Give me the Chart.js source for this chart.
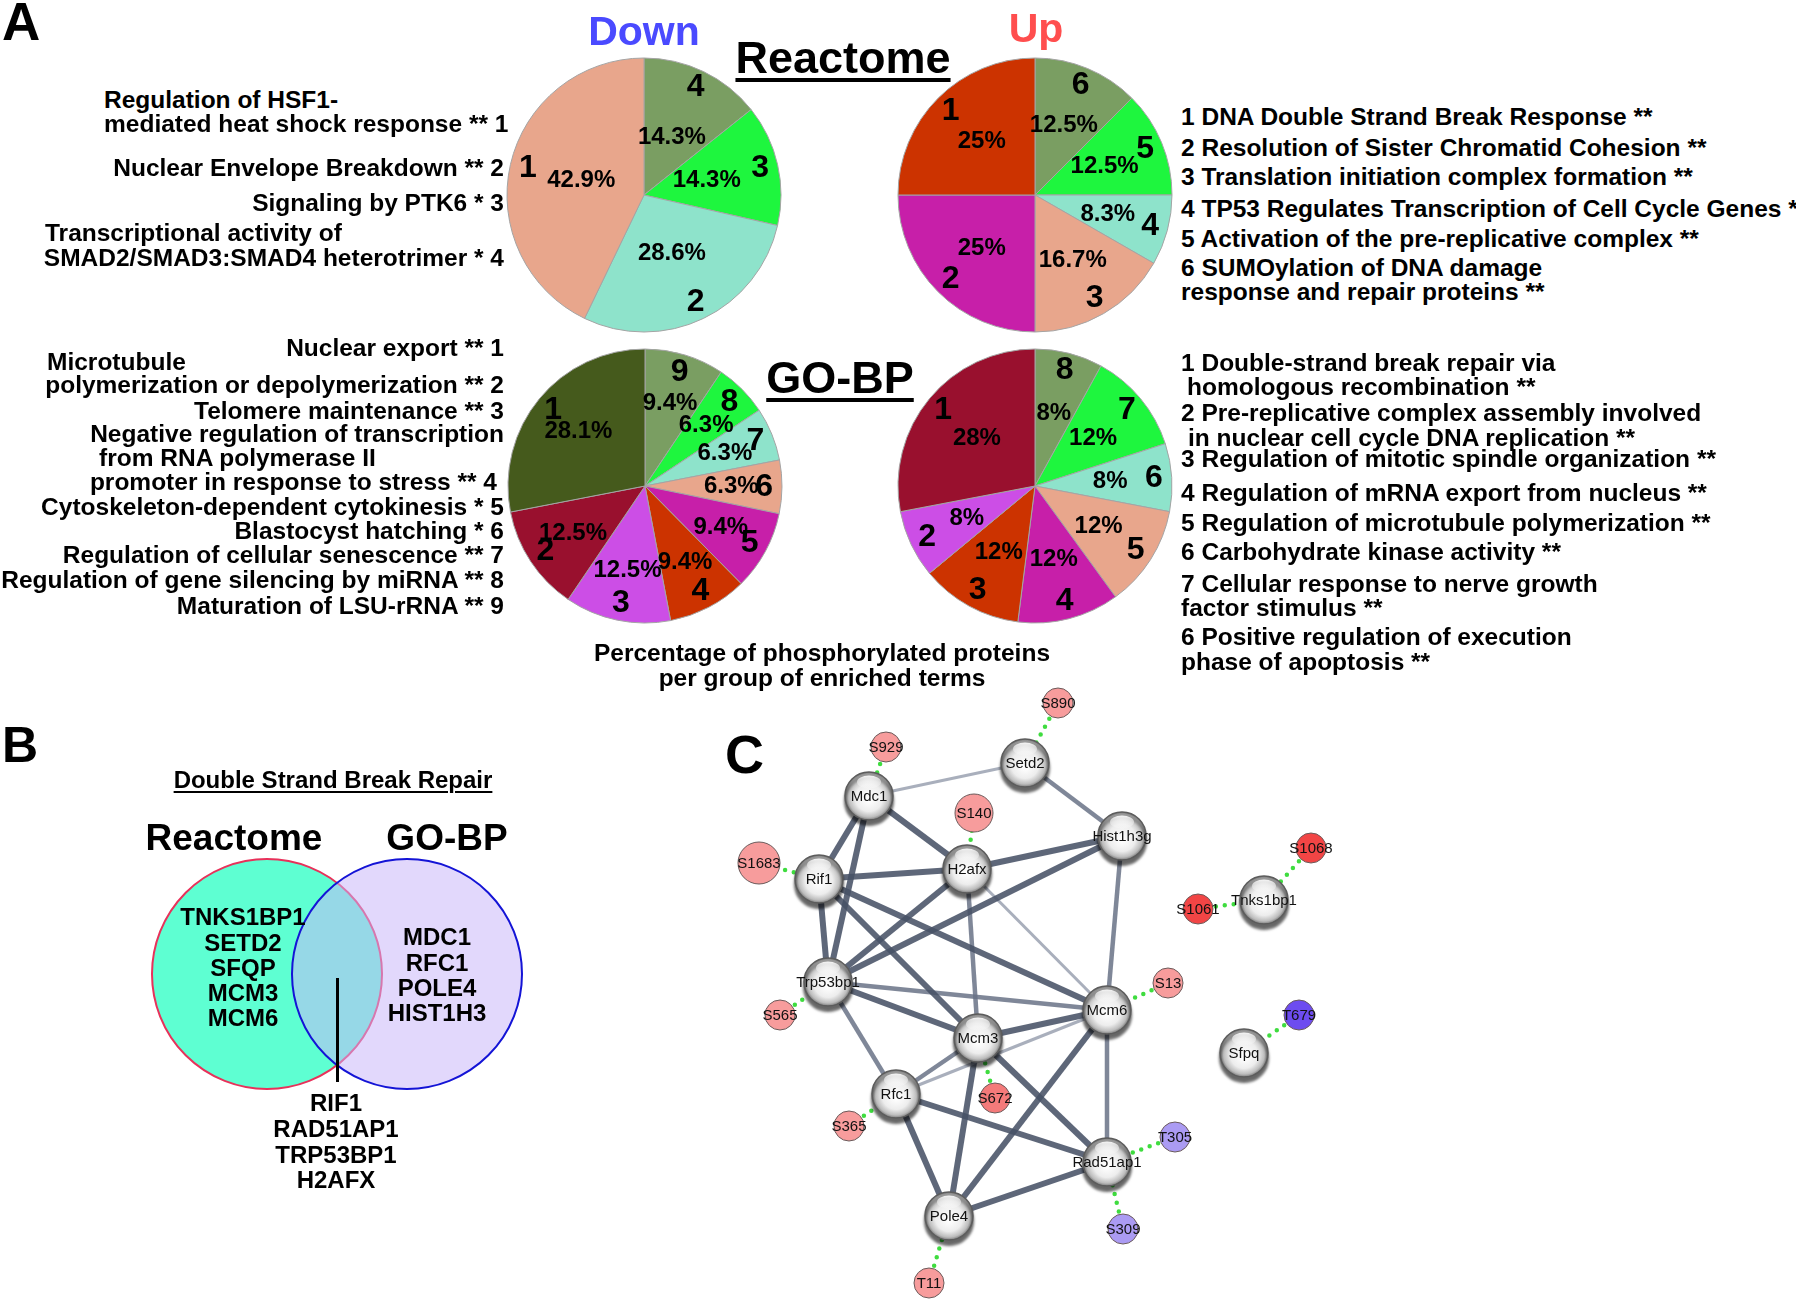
<!DOCTYPE html>
<html>
<head>
<meta charset="utf-8">
<script src="https://cdn.jsdelivr.net/npm/chart.js@4.4.1/dist/chart.umd.min.js"></script>
<style>
body { margin: 0; background: #fff; }
#page { position: relative; width: 1796px; height: 1299px; overflow: hidden;
        font-family: "Liberation Sans", Arial, Helvetica, sans-serif; font-weight: bold; color: #000; }
.t { position: absolute; white-space: pre; line-height: 1; }
canvas { position: absolute; }
</style>
</head>
<body>
<div id="page"></div>
<script>
// ---- panel A: pie data (clockwise from 12 o'clock) ----
var downReactomeIds = ['4', '3', '2', '1'];
var downReactomeVals = [14.3, 14.3, 28.6, 42.9];
var upReactomeIds = ['6', '5', '4', '3', '2', '1'];
var upReactomeVals = [12.5, 12.5, 8.3, 16.7, 25, 25];
var downGoIds = ['9', '8', '7', '6', '5', '4', '3', '2', '1'];
var downGoVals = [9.4, 6.3, 6.3, 6.3, 9.4, 9.4, 12.5, 12.5, 28.1];
var upGoIds = ['8', '7', '6', '5', '4', '3', '2', '1'];
var upGoVals = [8, 12, 8, 12, 12, 12, 8, 28];

// ---- panel B: venn sets ----
var vennSets = ['Reactome', 'GO-BP'];
var vennCenters = [{x: 267, y: 974}, {x: 407, y: 974}];
var reactomeOnly = ['TNKS1BP1', 'SETD2', 'SFQP', 'MCM3', 'MCM6'];
var goOnly = ['MDC1', 'RFC1', 'POLE4', 'HIST1H3'];
var shared = ['RIF1', 'RAD51AP1', 'TRP53BP1', 'H2AFX'];

// ---- panel C: network ----
var proteins = ['Mdc1', 'Setd2', 'Hist1h3g', 'Rif1', 'H2afx', 'Trp53bp1', 'Mcm6', 'Mcm3', 'Rfc1', 'Rad51ap1', 'Pole4', 'Sfpq', 'Tnks1bp1'];
var proteinX = [869, 1025, 1122, 819, 967, 828, 1107, 978, 896, 1107, 949, 1244, 1264];
var proteinY = [796, 763, 836, 879, 869, 982, 1010, 1038, 1094, 1162, 1216, 1053, 900];

var sites = ['S890', 'S929', 'S140', 'S1683', 'S565', 'S13', 'S672', 'S365', 'T11', 'T305', 'S309', 'T679', 'S1068', 'S1061'];
var siteProtein = ['Setd2', 'Mdc1', 'H2afx', 'Rif1', 'Trp53bp1', 'Mcm6', 'Mcm3', 'Rfc1', 'Pole4', 'Rad51ap1', 'Rad51ap1', 'Sfpq', 'Tnks1bp1', 'Tnks1bp1'];
var siteX = [1058, 886, 974, 759, 780, 1168, 995, 849, 929, 1175, 1123, 1299, 1311, 1198];
var siteY = [703, 747, 813, 863, 1015, 983, 1098, 1126, 1283, 1137, 1229, 1015, 848, 909];
var siteDirection = ['up', 'up', 'up', 'up', 'up', 'up', 'up', 'up', 'up', 'down', 'down', 'down', 'up', 'up'];
var siteLevel = [1, 1, 1, 1, 1, 1, 2, 1, 1, 1, 1, 3, 3, 3];

// edges: [protein, protein, confidence 1..3]
var edges = [
    ['Mdc1', 'Setd2', 1], ['Setd2', 'Hist1h3g', 2], ['Mdc1', 'Rif1', 3], ['Mdc1', 'Trp53bp1', 3],
    ['Mdc1', 'H2afx', 3], ['Rif1', 'H2afx', 3], ['H2afx', 'Hist1h3g', 3], ['Rif1', 'Trp53bp1', 3],
    ['Rif1', 'Mcm3', 3], ['Rif1', 'Mcm6', 3], ['H2afx', 'Trp53bp1', 3], ['Hist1h3g', 'Trp53bp1', 3],
    ['H2afx', 'Mcm3', 2], ['H2afx', 'Mcm6', 1], ['Hist1h3g', 'Mcm6', 2], ['Trp53bp1', 'Mcm6', 2],
    ['Trp53bp1', 'Mcm3', 3], ['Trp53bp1', 'Rfc1', 2], ['Mcm3', 'Mcm6', 3], ['Rfc1', 'Mcm3', 2],
    ['Rfc1', 'Mcm6', 1], ['Rfc1', 'Rad51ap1', 3], ['Rfc1', 'Pole4', 3], ['Mcm3', 'Pole4', 3],
    ['Mcm3', 'Rad51ap1', 3], ['Mcm6', 'Pole4', 3], ['Mcm6', 'Rad51ap1', 2], ['Pole4', 'Rad51ap1', 3]
];

// ---- styles ----
var FONT = '"Liberation Sans", Arial, Helvetica, sans-serif';
var LABEL = 24.5;
var palette = ['#7a9e62', '#1ef63e', '#8ee3cb', '#e8a68c', '#c71fa9', '#cc3300', '#cc4ee6', '#99102e', '#455a1c'];
var edgeStyle = {
    1: {color: 'rgba(140,148,165,0.75)', width: 3},
    2: {color: 'rgba(105,114,134,0.85)', width: 4.5},
    3: {color: 'rgba(72,82,102,0.88)', width: 6}
};
var siteColors = {up1: '#f79c9c', up2: '#f47a7a', up3: '#f24545', down1: '#ab9bf3', down3: '#6d4cf0'};
var siteSize = {S1683: 21, S140: 19};

Chart.defaults.font.family = FONT;

var page = document.getElementById('page');

function put(txt, x, y, align, size, style) {
    var d = document.createElement('div');
    d.className = 't';
    d.textContent = txt;
    d.style.fontSize = size + 'px';
    d.style.top = (y - size * 0.49) + 'px';
    if (align == 'left') {
        d.style.left = x + 'px';
    } else if (align == 'right') {
        d.style.left = (x - 1200) + 'px'; d.style.width = '1200px'; d.style.textAlign = 'right';
    } else {
        d.style.left = (x - 600) + 'px'; d.style.width = '1200px'; d.style.textAlign = 'center';
    }
    if (style) Object.assign(d.style, style);
    page.appendChild(d);
}

function addCanvas(left, top, w, h) {
    var cv = document.createElement('canvas');
    cv.width = w; cv.height = h;
    cv.style.left = left + 'px'; cv.style.top = top + 'px';
    page.appendChild(cv);
    return cv;
}

// numbers and percentages on the slices
var sliceLabels = {
    id: 'sliceLabels',
    afterDatasetsDraw: function (chart, args, opts) {
        var ctx = chart.ctx;
        var meta = chart.getDatasetMeta(0);
        var ids = chart.data.labels;
        var vals = chart.data.datasets[0].data;
        ctx.save();
        ctx.fillStyle = '#000';
        ctx.textAlign = 'center';
        ctx.textBaseline = 'middle';
        meta.data.forEach(function (arc, i) {
            var p = arc.getProps(['x', 'y', 'startAngle', 'endAngle', 'outerRadius']);
            var mid = (p.startAngle + p.endAngle) / 2;
            ctx.font = 'bold 32px ' + FONT;
            ctx.fillText(ids[i], p.x + Math.cos(mid) * p.outerRadius * opts.idR, p.y + Math.sin(mid) * p.outerRadius * opts.idR);
            ctx.font = 'bold 24px ' + FONT;
            ctx.fillText(vals[i] + '%', p.x + Math.cos(mid) * p.outerRadius * opts.pctR, p.y + Math.sin(mid) * p.outerRadius * opts.pctR);
        });
        ctx.restore();
    }
};

function makePie(cx, cy, ids, vals, pctR) {
    var cv = addCanvas(cx - 145, cy - 145, 290, 290);
    return new Chart(cv, {
        type: 'pie',
        data: {
            labels: ids,
            datasets: [{
                data: vals,
                backgroundColor: palette.slice(0, vals.length),
                borderColor: '#a4a4a4',
                borderWidth: 1
            }]
        },
        options: {
            responsive: false,
            animation: false,
            radius: 137,
            layout: {padding: 0},
            plugins: {
                legend: {display: false},
                tooltip: {enabled: false},
                sliceLabels: {idR: 0.87, pctR: pctR}
            }
        },
        plugins: [sliceLabels]
    });
}

makePie(644, 195, downReactomeIds, downReactomeVals, 0.47);
makePie(1035, 195, upReactomeIds, upReactomeVals, 0.55);
makePie(645, 486, downGoIds, downGoVals, 0.63);
makePie(1035, 486, upGoIds, upGoVals, 0.55);

// ---- panel B: venn ----
var vennCv = addCanvas(130, 840, 420, 270);
new Chart(vennCv, {
    type: 'scatter',
    data: {
        datasets: [
            {label: vennSets[1], data: [vennCenters[1]], pointRadius: 115, pointHoverRadius: 115,
             backgroundColor: 'rgba(200,181,249,0.53)', borderColor: '#1414d6', borderWidth: 2, order: 1},
            {label: vennSets[0], data: [vennCenters[0]], pointRadius: 115, pointHoverRadius: 115,
             backgroundColor: '#5effd2', borderColor: '#e8315a', borderWidth: 2, order: 2}
        ]
    },
    options: {
        responsive: false,
        animation: false,
        layout: {padding: 0, autoPadding: false},
        scales: {
            x: {type: 'linear', min: 130, max: 550, display: false},
            y: {type: 'linear', min: 840, max: 1110, reverse: true, display: false}
        },
        plugins: {legend: {display: false}, tooltip: {enabled: false}}
    }
});

// ---- panel C: network ----
var nodePos = {};
proteins.forEach(function (p, i) { nodePos[p] = {x: proteinX[i], y: proteinY[i]}; });

var netSets = [];
edges.forEach(function (e) {
    var st = edgeStyle[e[2]];
    netSets.push({data: [nodePos[e[0]], nodePos[e[1]]], showLine: true, pointRadius: 0,
                  borderColor: st.color, borderWidth: st.width, order: 10, clip: false});
});
sites.forEach(function (s, i) {
    netSets.push({data: [{x: siteX[i], y: siteY[i]}, nodePos[siteProtein[i]]], showLine: true, pointRadius: 0,
                  borderColor: '#3fdc3f', borderWidth: 4.5, borderDash: [0, 9], borderCapStyle: 'round',
                  order: 9, clip: false});
});

function sphereFill(c) {
    var chart = c.chart;
    var p = c.raw;
    if (!p || !chart.scales || !chart.scales.x || !chart.scales.y) return '#e0e0e0';
    var x = chart.scales.x.getPixelForValue(p.x);
    var y = chart.scales.y.getPixelForValue(p.y);
    if (!isFinite(x) || !isFinite(y)) return '#e0e0e0';
    var g = chart.ctx.createRadialGradient(x, y + 4, 1, x, y, 24);
    g.addColorStop(0, '#ffffff');
    g.addColorStop(0.55, '#ededed');
    g.addColorStop(0.85, '#bcbcbc');
    g.addColorStop(1, '#7a7a7a');
    return g;
}

netSets.push({
    names: sites,
    data: sites.map(function (s, i) { return {x: siteX[i], y: siteY[i]}; }),
    pointRadius: sites.map(function (s) { return siteSize[s] || 15; }),
    backgroundColor: sites.map(function (s, i) { return siteColors[siteDirection[i] + siteLevel[i]]; }),
    borderColor: '#6a5a5a', borderWidth: 1, order: 2, clip: false
});
netSets.push({
    names: proteins, sphere: true,
    data: proteins.map(function (p) { return nodePos[p]; }),
    pointRadius: 24,
    backgroundColor: sphereFill,
    borderColor: '#5c5c5c', borderWidth: 1.5, order: 1, clip: false
});

var netDecor = {
    id: 'netDecor',
    beforeDatasetDraw: function (chart, args) {
        if (chart.data.datasets[args.index].sphere) {
            chart.ctx.save();
            chart.ctx.shadowColor = 'rgba(0,0,0,0.6)';
            chart.ctx.shadowOffsetY = 5;
            chart.ctx.shadowBlur = 3;
        }
    },
    afterDatasetDraw: function (chart, args) {
        if (chart.data.datasets[args.index].sphere) chart.ctx.restore();
    },
    afterDatasetsDraw: function (chart) {
        var ctx = chart.ctx;
        ctx.save();
        ctx.textAlign = 'center';
        ctx.textBaseline = 'middle';
        chart.data.datasets.forEach(function (ds, di) {
            if (!ds.names) return;
            var meta = chart.getDatasetMeta(di);
            meta.data.forEach(function (pt, i) {
                if (ds.sphere) {
                    var hg = ctx.createLinearGradient(0, pt.y - 21, 0, pt.y - 8);
                    hg.addColorStop(0, 'rgba(255,255,255,0.95)');
                    hg.addColorStop(1, 'rgba(255,255,255,0.15)');
                    ctx.fillStyle = hg;
                    ctx.beginPath();
                    ctx.ellipse(pt.x, pt.y - 14, 12, 6.5, 0, 0, Math.PI * 2);
                    ctx.fill();
                }
                ctx.fillStyle = '#111';
                ctx.font = '15px ' + FONT;
                ctx.fillText(ds.names[i], pt.x, pt.y + 1);
            });
        });
        ctx.restore();
    }
};

var netCv = addCanvas(720, 680, 620, 619);
new Chart(netCv, {
    type: 'scatter',
    data: {datasets: netSets},
    options: {
        responsive: false,
        animation: false,
        layout: {padding: 0, autoPadding: false},
        scales: {
            x: {type: 'linear', min: 720, max: 1340, display: false},
            y: {type: 'linear', min: 680, max: 1299, reverse: true, display: false}
        },
        plugins: {legend: {display: false}, tooltip: {enabled: false}}
    },
    plugins: [netDecor]
});

// ---- texts ----
var ul = function (th, off) { return {textDecoration: 'underline', textDecorationThickness: th + 'px', textUnderlineOffset: off + 'px'}; };

put('A', 2, 21, 'left', 53);
put('Down', 644, 31, 'center', 41, {color: '#4a4aff'});
put('Up', 1036, 28, 'center', 41, {color: '#ff4e4e'});
put('Reactome', 843, 57, 'center', 45, ul(4, 5));
put('GO-BP', 840, 377, 'center', 45, ul(4, 5));

put('Regulation of HSF1-', 104, 100, 'left', LABEL);
put('mediated heat shock response ** 1', 104, 124, 'left', LABEL);
put('Nuclear Envelope Breakdown ** 2', 504, 168, 'right', LABEL);
put('Signaling by PTK6 * 3', 504, 203, 'right', LABEL);
put('Transcriptional activity of', 45, 233, 'left', LABEL);
put('SMAD2/SMAD3:SMAD4 heterotrimer * 4', 504, 258, 'right', LABEL);

put('1 DNA Double Strand Break Response **', 1181, 117, 'left', LABEL);
put('2 Resolution of Sister Chromatid Cohesion **', 1181, 148, 'left', LABEL);
put('3 Translation initiation complex formation **', 1181, 177, 'left', LABEL);
put('4 TP53 Regulates Transcription of Cell Cycle Genes *', 1181, 209, 'left', LABEL);
put('5 Activation of the pre-replicative complex **', 1181, 239, 'left', LABEL);
put('6 SUMOylation of DNA damage', 1181, 268, 'left', LABEL);
put('response and repair proteins **', 1181, 292, 'left', LABEL);

put('Nuclear export ** 1', 504, 348, 'right', LABEL);
put('Microtubule', 47, 362, 'left', LABEL);
put('polymerization or depolymerization ** 2', 504, 385, 'right', LABEL);
put('Telomere maintenance ** 3', 504, 411, 'right', LABEL);
put('Negative regulation of transcription', 504, 434, 'right', LABEL);
put('from RNA polymerase II', 99, 458, 'left', LABEL);
put('promoter in response to stress ** 4', 497, 482, 'right', LABEL);
put('Cytoskeleton-dependent cytokinesis * 5', 504, 507, 'right', LABEL);
put('Blastocyst hatching * 6', 504, 531, 'right', LABEL);
put('Regulation of cellular senescence ** 7', 504, 555, 'right', LABEL);
put('Regulation of gene silencing by miRNA ** 8', 504, 580, 'right', LABEL);
put('Maturation of LSU-rRNA ** 9', 504, 606, 'right', LABEL);

put('1 Double-strand break repair via', 1181, 363, 'left', LABEL);
put('homologous recombination **', 1187, 387, 'left', LABEL);
put('2 Pre-replicative complex assembly involved', 1181, 413, 'left', LABEL);
put('in nuclear cell cycle DNA replication **', 1188, 438, 'left', LABEL);
put('3 Regulation of mitotic spindle organization **', 1181, 459, 'left', LABEL);
put('4 Regulation of mRNA export from nucleus **', 1181, 493, 'left', LABEL);
put('5 Regulation of microtubule polymerization **', 1181, 523, 'left', LABEL);
put('6 Carbohydrate kinase activity **', 1181, 552, 'left', LABEL);
put('7 Cellular response to nerve growth', 1181, 584, 'left', LABEL);
put('factor stimulus **', 1181, 608, 'left', LABEL);
put('6 Positive regulation of execution', 1181, 637, 'left', LABEL);
put('phase of apoptosis **', 1181, 662, 'left', LABEL);

put('Percentage of phosphorylated proteins', 822, 653, 'center', LABEL);
put('per group of enriched terms', 822, 678, 'center', LABEL);

put('B', 2, 744, 'left', 50);
put('Double Strand Break Repair', 333, 780, 'center', 24, ul(2, 3));
put(vennSets[0], 234, 837, 'center', 37);
put(vennSets[1], 447, 837, 'center', 37);
reactomeOnly.forEach(function (g, i) { put(g, 243, 917 + i * 25.3, 'center', 24); });
goOnly.forEach(function (g, i) { put(g, 437, 937 + i * 25.3, 'center', 24); });
shared.forEach(function (g, i) { put(g, 336, 1103 + i * 25.7, 'center', 24); });
var pointer = document.createElement('div');
Object.assign(pointer.style, {position: 'absolute', left: '336px', top: '978px', width: '3px', height: '104px', background: '#000'});
page.appendChild(pointer);

put('C', 725, 753, 'left', 54);
</script>
</body>
</html>
